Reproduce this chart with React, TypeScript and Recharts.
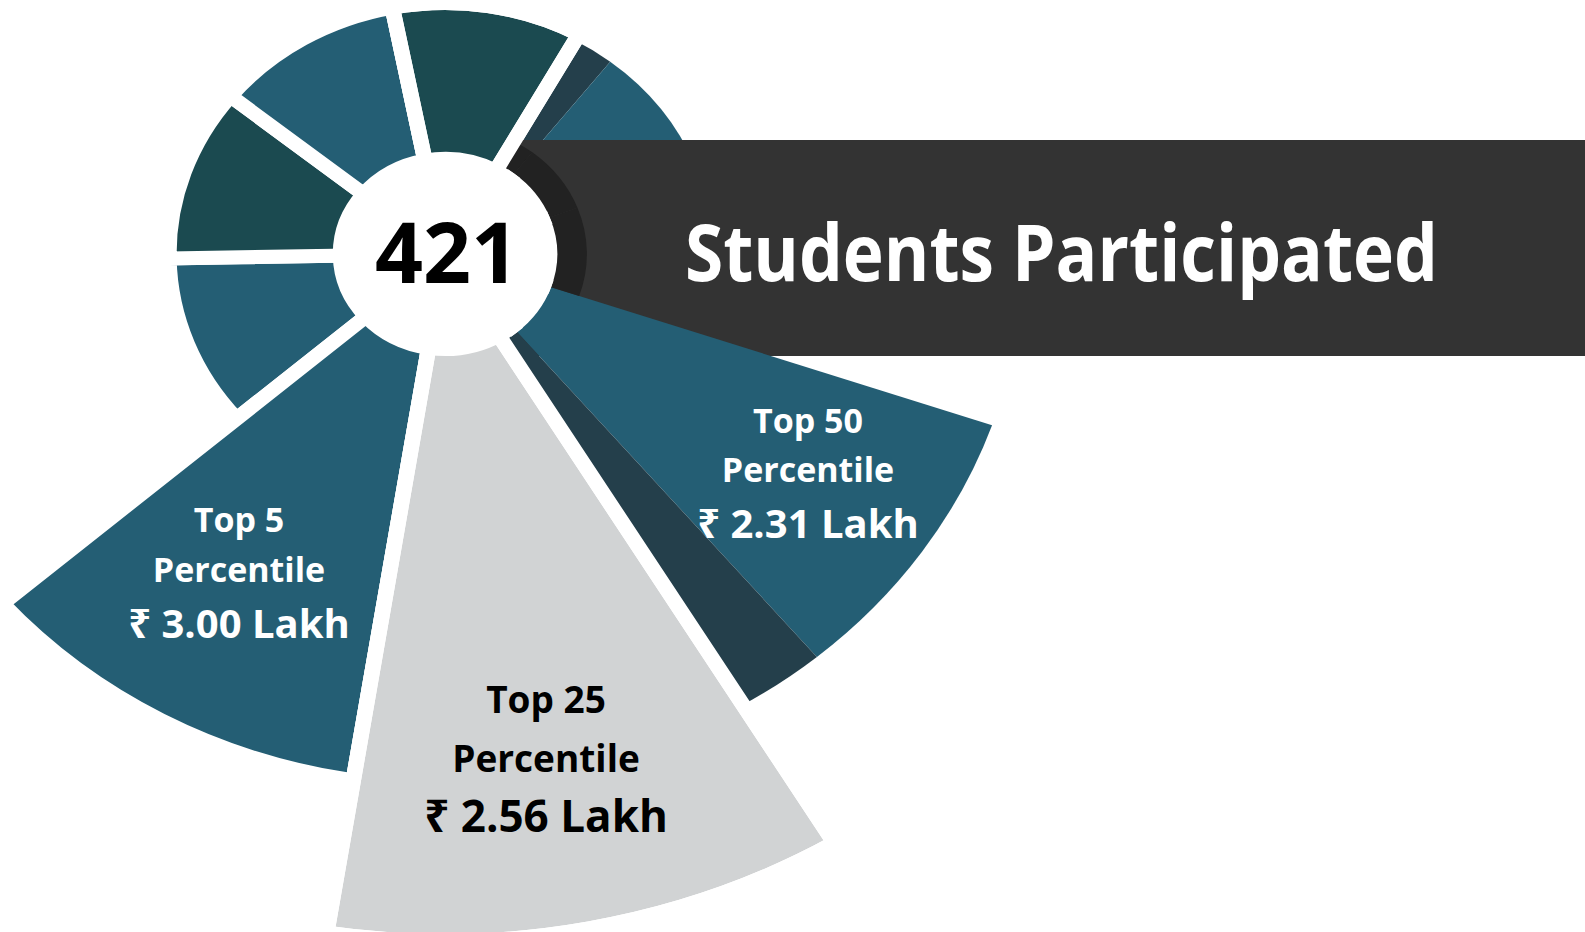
import React from 'react';
import { PieChart, Pie, Cell } from 'recharts';

// ---------- data ----------
// angular size (degrees) of every slice of the wheel, clockwise starting at the "Top 50" slice
const segmentNames = [
  'Top 50 Percentile',
  'Top 50 shade',
  'Top 25 Percentile',
  'Top 5 Percentile',
  'Slice 5',
  'Slice 6',
  'Slice 7',
  'Slice 8',
  'Slice 9 shade',
  'Slice 9',
  'Slice 10',
];
const segmentValues = [31, 9, 40, 40, 40, 40, 40, 40, 9, 31, 40];

const labelTitles = ['Top 50', 'Top 25', 'Top 5'];
const labelSubtitles = ['Percentile', 'Percentile', 'Percentile'];
const labelAmounts = ['₹ 2.31 Lakh', '₹ 2.56 Lakh', '₹ 3.00 Lakh'];

const totalStudents = '421';
const bannerText = 'Students Participated';

// ---------- styles / layout ----------
const W = 1585;
const H = 932;
const CX = 445;
const CY = 254;
const STRETCH = 1.1;
const START = -19;
const GAP = 14;

const TEAL = '#245E74';
const DKGREEN = '#1B4A50';
const SHADE = '#243F4B';
const GRAY = '#D1D3D4';
const segmentColors = [TEAL, SHADE, GRAY, TEAL, TEAL, DKGREEN, TEAL, DKGREEN, SHADE, TEAL, DKGREEN];

const R_RING = 244;
const R_MID = 526;
const R_BIG = 680;
const R_DARK = 129;
const R_HOLE = 102;

const FONT = "'Open Sans', 'Noto Sans', 'DejaVu Sans', sans-serif";

const segments = segmentNames.map((name, i) => ({ name, value: segmentValues[i] }));

type Mode = 'plain' | 'gap' | 'outline';

const pieEl = (id: string, radius: number, members: number[], mode: Mode, color?: string) => (
  <Pie
    key={id}
    data={segments}
    dataKey="value"
    nameKey="name"
    cx={CX}
    cy={CY}
    innerRadius={0}
    outerRadius={radius}
    startAngle={START}
    endAngle={START - 360}
    paddingAngle={0}
    isAnimationActive={false}
    stroke="none"
    legendType="none"
  >
    {segments.map((s, i) => {
      if (!members.includes(i)) return <Cell key={`${id}-${i}`} fill="none" stroke="none" />;
      const fill = mode === 'outline' ? 'none' : color ?? segmentColors[i];
      const stroke = mode === 'plain' ? 'none' : '#ffffff';
      return <Cell key={`${id}-${i}`} fill={fill} stroke={stroke} strokeWidth={mode === 'plain' ? 0 : GAP} />;
    })}
  </Pie>
);

const stretchStyle: React.CSSProperties = {
  position: 'absolute',
  left: 0,
  top: 0,
  width: W,
  height: H,
  transform: `scaleX(${STRETCH})`,
  transformOrigin: `${CX}px ${CY}px`,
};

const labelLayout = [
  { x: 808, y: [433, 482, 538], size: [34, 34, 40], color: '#ffffff' },
  { x: 546, y: [713, 772, 832], size: [37, 37, 44], color: '#000000' },
  { x: 239, y: [532, 582, 638], size: [34, 34, 40], color: '#ffffff' },
];

export default function App() {
  return (
    <div style={{ position: 'relative', width: W, height: H, overflow: 'hidden', background: '#fff' }}>
      <style>{'body{margin:0;overflow:hidden;}'}</style>
      {/* wheel, lower layer */}
      <div style={stretchStyle}>
        <PieChart width={W} height={H} margin={{ top: 0, right: 0, bottom: 0, left: 0 }}>
          {pieEl('ringPlain', R_RING, [8, 9, 10], 'plain')}
          {pieEl('ringGap', R_RING + GAP / 2, [4, 5, 6, 7], 'gap')}
          {pieEl('top5', R_MID + GAP / 2, [3], 'gap')}
          {pieEl('top25', R_BIG + GAP / 2, [2], 'gap')}
        </PieChart>
      </div>
      {/* banner */}
      <div
        style={{
          position: 'absolute',
          left: 510,
          top: 140,
          width: W - 510,
          height: 216,
          background: '#333333',
        }}
      />
      {/* wheel, upper layer */}
      <div style={stretchStyle}>
        <PieChart width={W} height={H} margin={{ top: 0, right: 0, bottom: 0, left: 0 }}>
          {pieEl('top50', R_MID, [0, 1], 'plain')}
          {pieEl('darkRing', R_DARK, [8, 9, 10], 'plain', '#222222')}
          {pieEl('gapA', R_BIG + GAP / 2, [2], 'outline')}
          {pieEl('gapB', R_RING + GAP / 2, [7], 'outline')}
          {pieEl('hole', R_HOLE - GAP / 2, segmentValues.map((_, i) => i), 'gap', '#ffffff')}
        </PieChart>
      </div>
      {/* texts */}
      <svg width={W} height={H} style={{ position: 'absolute', left: 0, top: 0, pointerEvents: 'none' }}>
        <text x={447} y={283} textAnchor="middle" fontFamily={FONT} fontWeight={700} fontSize={84} fill="#000">
          {totalStudents}
        </text>
        <text
          x={685}
          y={281}
          fontFamily={FONT}
          fontWeight={700}
          fontSize={78}
          fill="#ffffff"
          textLength={753}
          lengthAdjust="spacingAndGlyphs"
        >
          {bannerText}
        </text>
        {labelLayout.map((l, i) => (
          <g key={i} fill={l.color} fontFamily={FONT} fontWeight={700} textAnchor="middle">
            <text x={l.x} y={l.y[0]} fontSize={l.size[0]}>{labelTitles[i]}</text>
            <text x={l.x} y={l.y[1]} fontSize={l.size[1]}>{labelSubtitles[i]}</text>
            <text x={l.x} y={l.y[2]} fontSize={l.size[2]}>{labelAmounts[i]}</text>
          </g>
        ))}
      </svg>
    </div>
  );
}
